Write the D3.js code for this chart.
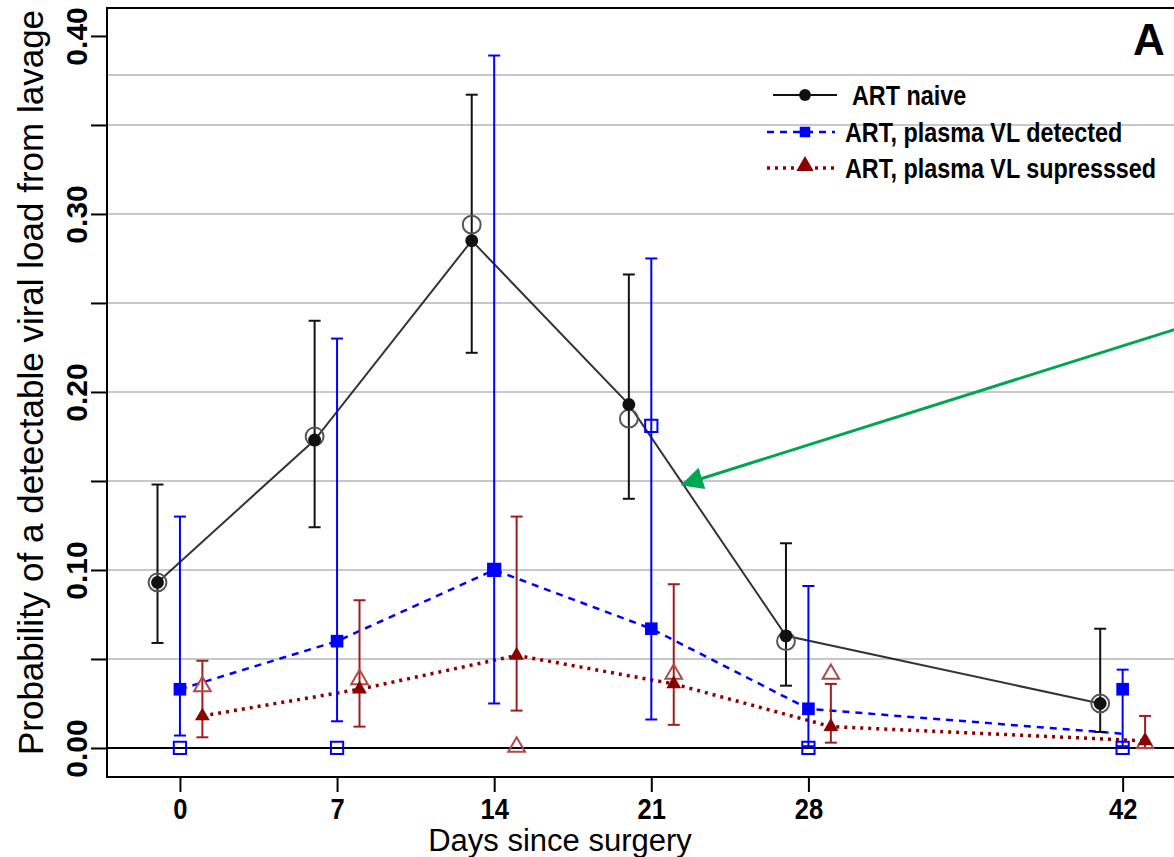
<!DOCTYPE html>
<html>
<head>
<meta charset="utf-8">
<script src="https://cdn.jsdelivr.net/npm/d3@7"></script>
<style>
  body { margin: 0; background: #fff; }
  svg { display: block; font-family: "Liberation Sans", Arial, sans-serif; }
</style>
</head>
<body>
<svg id="chart" width="1174" height="857"></svg>
<script>
// days since surgery (x ticks)
var days = [0, 7, 14, 21, 28, 42]

// ART naive: model estimate, CI and observed proportion
var naiveFit = [0.093, 0.173, 0.285, 0.193, 0.063, 0.025]
var naiveLo  = [0.059, 0.124, 0.222, 0.140, 0.035, 0.009]
var naiveHi  = [0.148, 0.240, 0.367, 0.266, 0.115, 0.067]
var naiveObs = [0.093, 0.175, 0.294, 0.185, 0.060, 0.025]

// ART, plasma VL detected
var detFit  = [0.033, 0.060, 0.100, 0.067, 0.022, 0.033]
var detLo   = [0.007, 0.015, 0.025, 0.016, 0.001, 0.001]
var detHi   = [0.130, 0.230, 0.389, 0.275, 0.091, 0.044]
var detObs  = [0.000, 0.000, 0.100, 0.181, 0.000, 0.000]
var detLine = [0.033, 0.060, 0.100, 0.067, 0.022, 0.008]

// ART, plasma VL supressed
var supFit = [0.018, 0.033, 0.052, 0.036, 0.012, 0.004]
var supLo  = [0.006, 0.012, 0.021, 0.013, 0.003, 0.000]
var supHi  = [0.049, 0.083, 0.130, 0.092, 0.036, 0.018]
var supObs = [0.034, 0.038, 0.000, 0.041, 0.041, 0.002]

var yTicks = [0, 0.05, 0.10, 0.15, 0.20, 0.25, 0.30, 0.35, 0.40]
var gridVals = [0.05, 0.10, 0.15, 0.20, 0.25, 0.30, 0.35, 0.378]
var legendLabels = ["ART naive", "ART, plasma VL detected", "ART, plasma VL supresssed"]

var dimensions = {
  width: 1174,
  height: 857,
  frame: { left: 107, right: 1190, top: 8, bottom: 777 }
}

var svg = d3.select("#chart")

var xScale = d3.scaleLinear()
  .domain([-3.25, 44.6])
  .range([dimensions.frame.left, 1181])

var yScale = d3.scaleLinear()
  .domain([-0.0163, 0.4157])
  .range([dimensions.frame.bottom, dimensions.frame.top])

var colBlack = "#111", colBlue = "#0000ff", colRed = "#8b0000", colRedCI = "#a11d1d", colRedOpen = "#b04a4a"

// gridlines
svg.append("g").selectAll("line").data(gridVals).enter().append("line")
  .attr("x1", dimensions.frame.left).attr("x2", dimensions.frame.right)
  .attr("y1", d => yScale(d)).attr("y2", d => yScale(d))
  .attr("stroke", "#c8c8c8").attr("stroke-width", 2)

// zero line
svg.append("line")
  .attr("x1", dimensions.frame.left).attr("x2", dimensions.frame.right)
  .attr("y1", yScale(0)).attr("y2", yScale(0))
  .attr("stroke", "#000").attr("stroke-width", 2)

// frame
svg.append("rect")
  .attr("x", dimensions.frame.left).attr("y", dimensions.frame.top)
  .attr("width", dimensions.frame.right - dimensions.frame.left)
  .attr("height", dimensions.frame.bottom - dimensions.frame.top)
  .attr("fill", "none").attr("stroke", "#000").attr("stroke-width", 2)

// y axis
var yAxisGen = d3.axisLeft(yScale).tickValues(yTicks).tickSize(16)
  .tickFormat(d => (Math.round(d * 100) % 10 === 0) ? d3.format(".2f")(d) : "")
var yAxis = svg.append("g")
  .attr("transform", `translate(${dimensions.frame.left},0)`)
  .call(yAxisGen)
yAxis.select(".domain").remove()
yAxis.selectAll(".tick line").attr("stroke", "#000").attr("stroke-width", 2)
yAxis.selectAll(".tick text")
  .attr("x", null).attr("dy", null)
  .attr("transform", "translate(-20,0) rotate(-90)")
  .attr("text-anchor", "middle")
  .attr("y", 0)
  .style("font-size", "30px").style("font-weight", "bold").attr("fill", "#000")

// x axis
var xAxisGen = d3.axisBottom(xScale).tickValues(days).tickSize(15).tickPadding(0)
var xAxis = svg.append("g")
  .attr("transform", `translate(0,${dimensions.frame.bottom})`)
  .call(xAxisGen)
xAxis.select(".domain").remove()
xAxis.selectAll(".tick line").attr("stroke", "#000").attr("stroke-width", 2)
xAxis.selectAll(".tick text")
  .attr("y", null).attr("dy", null)
  .attr("transform", "translate(0,42) scale(0.88,1)")
  .style("font-size", "29px").style("font-weight", "bold").attr("fill", "#000")

// axis titles
svg.append("text")
  .attr("transform", `translate(43,${(5 + 760) / 2}) rotate(-90)`)
  .attr("text-anchor", "middle")
  .style("font-size", "35px")
  .text("Probability of a detectable viral load from lavage")

svg.append("text")
  .attr("x", 560).attr("y", 851)
  .attr("text-anchor", "middle")
  .style("font-size", "31px")
  .text("Days since surgery")

svg.append("text")
  .attr("x", 1149).attr("y", 55)
  .attr("text-anchor", "middle")
  .style("font-size", "44px").style("font-weight", "bold")
  .text("A")

// series setup
var series = [
  { fit: naiveFit, lo: naiveLo, hi: naiveHi, obs: naiveObs, line: naiveFit, off: -1, color: colBlack, ci: colBlack,
    dash: null, width: 2, shape: d3.symbolCircle },
  { fit: detFit, lo: detLo, hi: detHi, obs: detObs, line: detLine, off: 0, color: colBlue, ci: colBlue,
    dash: "7,6", width: 2.5, shape: d3.symbolSquare },
  { fit: supFit, lo: supLo, hi: supHi, obs: supObs, line: supFit, off: 1, color: colRed, ci: colRedCI,
    dash: "3,5", width: 3.5, shape: d3.symbolTriangle }
]

var lineGen = d3.line().x(d => xScale(d[0])).y(d => yScale(d[1]))

series.forEach(function (s) {
  var pts = days.map((d, i) => [d + s.off, s.line[i]])
  svg.append("path")
    .datum(pts)
    .attr("d", lineGen)
    .attr("fill", "none")
    .attr("stroke", s.color)
    .attr("stroke-width", s.width)
    .attr("stroke-dasharray", s.dash)
    .attr("opacity", s.off === -1 ? 0.85 : 1)
})

series.forEach(function (s) {
  var g = svg.append("g")
  var rows = days.map((d, i) => ({ x: d + s.off, fit: s.fit[i], lo: s.lo[i], hi: s.hi[i], obs: s.obs[i] }))

  // error bars
  g.selectAll(".ci").data(rows).enter().append("line")
    .attr("x1", d => xScale(d.x)).attr("x2", d => xScale(d.x))
    .attr("y1", d => yScale(d.lo)).attr("y2", d => yScale(d.hi))
    .attr("stroke", s.ci).attr("stroke-width", 2)
  g.selectAll(".capHi").data(rows).enter().append("line")
    .attr("x1", d => xScale(d.x) - 6).attr("x2", d => xScale(d.x) + 6)
    .attr("y1", d => yScale(d.hi)).attr("y2", d => yScale(d.hi))
    .attr("stroke", s.ci).attr("stroke-width", 2)
  g.selectAll(".capLo").data(rows).enter().append("line")
    .attr("x1", d => xScale(d.x) - 6).attr("x2", d => xScale(d.x) + 6)
    .attr("y1", d => yScale(d.lo)).attr("y2", d => yScale(d.lo))
    .attr("stroke", s.ci).attr("stroke-width", 2)

  // observed (open) markers
  var openSize = s.shape === d3.symbolCircle ? 250 : (s.shape === d3.symbolSquare ? 150 : 120)
  g.selectAll(".obs").data(rows).enter().append("path")
    .attr("d", d3.symbol().type(s.shape).size(openSize))
    .attr("transform", d => `translate(${xScale(d.x)},${yScale(d.obs) - (s.shape === d3.symbolTriangle ? 1 : 0)})`)
    .attr("fill", "none")
    .attr("stroke", s.shape === d3.symbolCircle ? "#555" : (s.shape === d3.symbolTriangle ? colRedOpen : colBlue))
    .attr("stroke-width", 2)

  // fitted (filled) markers
  var fillSize = s.shape === d3.symbolCircle ? 130 : (s.shape === d3.symbolSquare ? 160 : 95)
  g.selectAll(".fit").data(rows).enter().append("path")
    .attr("d", d3.symbol().type(s.shape).size(fillSize))
    .attr("transform", d => `translate(${xScale(d.x)},${yScale(d.fit)})`)
    .attr("fill", s.color)
})

// legend
var legendY = [95, 132, 168]
var legend = svg.append("g")
legendLabels.forEach(function (label, i) {
  var s = series[i]
  var x0 = i === 0 ? 773 : 767, x1 = i === 0 ? 837 : 835
  legend.append("line")
    .attr("x1", x0).attr("x2", x1)
    .attr("y1", legendY[i]).attr("y2", legendY[i])
    .attr("stroke", s.color).attr("stroke-width", s.width)
    .attr("stroke-dasharray", s.dash)
  legend.append("path")
    .attr("d", d3.symbol().type(s.shape).size(i === 0 ? 110 : (i === 1 ? 110 : 130)))
    .attr("transform", `translate(805,${legendY[i] - (i === 2 ? 2 : 0)})`)
    .attr("fill", s.color)
  legend.append("text")
    .attr("transform", `translate(${i === 0 ? 852 : 845},${legendY[i] + 10}) scale(0.82,1)`)
    .style("font-size", "28.5px").style("font-weight", "bold")
    .text(label)
})

// green annotation arrow pointing at the ART naive curve
var arrowFrom = [44.3, 0.235], arrowTo = [22.4, 0.148]
svg.append("defs").append("marker")
  .attr("id", "arrowhead")
  .attr("viewBox", "0 0 10 10")
  .attr("refX", 9).attr("refY", 5)
  .attr("markerWidth", 7.5).attr("markerHeight", 7.5)
  .attr("markerUnits", "strokeWidth")
  .attr("orient", "auto")
  .append("path").attr("d", "M0,0 L10,5 L0,10 Z").attr("fill", "#00a651")
svg.append("line")
  .attr("x1", xScale(arrowFrom[0])).attr("y1", yScale(arrowFrom[1]))
  .attr("x2", xScale(arrowTo[0])).attr("y2", yScale(arrowTo[1]))
  .attr("stroke", "#00a651").attr("stroke-width", 3)
  .attr("marker-end", "url(#arrowhead)")
</script>
</body>
</html>
